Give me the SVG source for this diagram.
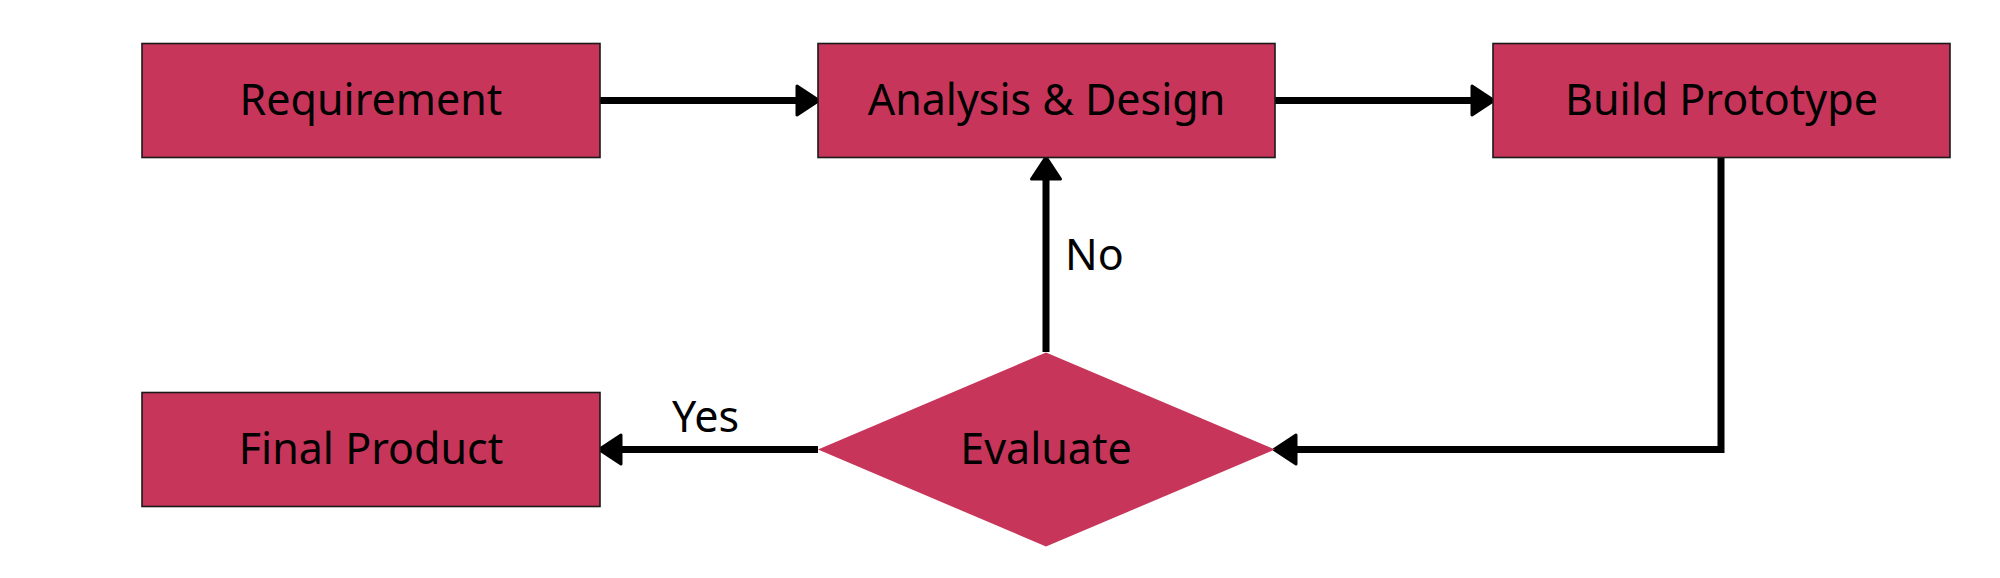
<svg xmlns="http://www.w3.org/2000/svg" width="2000" height="578" viewBox="0 0 2000 578">
<style>
.box{fill:#C7365A;stroke:#1a1a1a;stroke-width:1.6}
.dia{fill:#C7365A}
.t{font-family:"Noto Sans","Liberation Sans",sans-serif;font-size:43px;fill:#000;text-anchor:middle}
.lbl{font-family:"Noto Sans","Liberation Sans",sans-serif;font-size:43px;fill:#000}
.c{fill:none;stroke:#000;stroke-width:7;marker-end:url(#ah)}
</style>
<defs>
<marker id="ah" markerUnits="userSpaceOnUse" markerWidth="30" markerHeight="34" viewBox="0 0 30 34" refX="12" refY="17" orient="auto">
<path d="M3,2.5 L25,17 L3,31.5 Z" fill="#000" stroke="#000" stroke-width="3" stroke-linejoin="round"/>
</marker>
</defs>
<rect width="2000" height="578" fill="#fff"/>
<g id="connectors">
<path class="c" d="M600,100.5 L806,100.5"/>
<path class="c" d="M1275,100.5 L1481,100.5"/>
<path class="c" d="M1721,157 L1721,449.5 L1287,449.5"/>
<path class="c" d="M1046,352 L1046,170"/>
<path class="c" d="M818,449.5 L612,449.5"/>
<text class="lbl" x="1065" y="270">No</text>
<text class="lbl" x="672" y="432">Yes</text>
</g>
<g id="requirement">
<rect class="box" x="142" y="43.5" width="458" height="114"/>
<text class="t" x="371" y="115">Requirement</text>
</g>
<g id="analysis">
<rect class="box" x="818" y="43.5" width="457" height="114"/>
<text class="t" x="1046.5" y="115">Analysis &amp; Design</text>
</g>
<g id="build">
<rect class="box" x="1493" y="43.5" width="457" height="114"/>
<text class="t" x="1721.5" y="115">Build Prototype</text>
</g>
<g id="evaluate">
<polygon class="dia" points="1046,352.5 1275,449.5 1046,546.5 818,449.5"/>
<text class="t" x="1046" y="464">Evaluate</text>
</g>
<g id="final">
<rect class="box" x="142" y="392.5" width="458" height="114"/>
<text class="t" x="371" y="464">Final Product</text>
</g>
</svg>
